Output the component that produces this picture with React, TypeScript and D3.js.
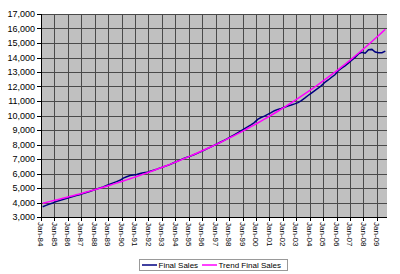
import React from "react";
import * as d3 from "d3";

// Quarterly categories 1984Q1 .. 2009Q3 (103 quarters); labels every 4 quarters
const startYear = 1984;
const quarterCount = 103;

const tickLabels = [
  "Jan-84", "Jan-85", "Jan-86", "Jan-87", "Jan-88", "Jan-89", "Jan-90", "Jan-91",
  "Jan-92", "Jan-93", "Jan-94", "Jan-95", "Jan-96", "Jan-97", "Jan-98", "Jan-99",
  "Jan-00", "Jan-01", "Jan-02", "Jan-03", "Jan-04", "Jan-05", "Jan-06", "Jan-07",
  "Jan-08", "Jan-09",
];

const yTicks = [3000, 4000, 5000, 6000, 7000, 8000, 9000, 10000, 11000, 12000, 13000, 14000, 15000, 16000, 17000];

const finalSales = [
  3710, 3800, 3890, 3970,
  4060, 4140, 4210, 4280,
  4340, 4410, 4480, 4540,
  4610, 4690, 4760, 4840,
  4920, 5000, 5080, 5170,
  5260, 5350, 5440, 5530,
  5680, 5780, 5860, 5900,
  5930, 6000, 6050, 6080,
  6160, 6230, 6300, 6390,
  6460, 6540, 6630, 6740,
  6840, 6940, 7040, 7130,
  7200, 7290, 7390, 7490,
  7600, 7720, 7820, 7940,
  8050, 8170, 8290, 8410,
  8540, 8670, 8800, 8940,
  9080, 9220, 9360, 9510,
  9730, 9860, 9960, 10080,
  10200, 10330, 10420, 10480,
  10570, 10650, 10720, 10800,
  10890, 11030, 11200, 11380,
  11550, 11720, 11880, 12060,
  12290, 12450, 12640, 12810,
  13090, 13260, 13420, 13610,
  13820, 14010, 14250, 14360,
  14300, 14540, 14560, 14380,
  14330, 14330, 14440,
];

const trendFinalSales = [
  3950, 4004, 4060, 4115,
  4172, 4230, 4288, 4347,
  4407, 4468, 4529, 4592,
  4655, 4719, 4784, 4850,
  4917, 4985, 5053, 5123,
  5193, 5265, 5337, 5411,
  5486, 5561, 5638, 5715,
  5794, 5874, 5955, 6037,
  6120, 6204, 6290, 6377,
  6465, 6554, 6644, 6735,
  6828, 6922, 7018, 7114,
  7212, 7312, 7412, 7515,
  7618, 7723, 7830, 7937,
  8047, 8158, 8270, 8384,
  8500, 8617, 8735, 8856,
  8978, 9101, 9227, 9354,
  9483, 9613, 9746, 9880,
  10016, 10154, 10294, 10436,
  10580, 10726, 10873, 11023,
  11175, 11329, 11485, 11643,
  11804, 11966, 12131, 12298,
  12468, 12640, 12814, 12990,
  13169, 13351, 13535, 13721,
  13910, 14102, 14296, 14493,
  14693, 14895, 15101, 15309,
  15519, 15733, 15950,
];

const FONT = "'Liberation Sans', Arial, Helvetica, sans-serif";

export default function App() {
  const W = 400;
  const H = 274;
  const left = 41;
  const right = 387;
  const top = 14;
  const bottom = 217;

  const x = d3.scaleLinear().domain([0, quarterCount]).range([left, right]);
  const y = d3.scaleLinear().domain([3000, 17000]).range([bottom, top]);

  const line = d3
    .line<number>()
    .x((_, i) => x(i + 0.5))
    .y((d) => y(d));

  const px = (v: number) => Math.round(v) + 0.5;

  return (
    <svg
      width={W}
      height={H}
      style={{ position: "absolute", left: 0, top: 0, background: "#fff" }}
      fontFamily={FONT}
    >
      <rect x={0} y={0} width={W} height={H} fill="#fff" />
      <rect x={left} y={top} width={right - left} height={bottom - top} fill="#c0c0c0" />
      {/* horizontal gridlines */}
      {yTicks.map((t) => (
        <line key={"h" + t} x1={left} x2={right} y1={px(y(t))} y2={px(y(t))} stroke="#4a4a4a" strokeWidth={1} />
      ))}
      {/* vertical gridlines */}
      {tickLabels.map((lab, k) => (
        <line key={"v" + lab} x1={px(x(k * 4))} x2={px(x(k * 4))} y1={top} y2={bottom} stroke="#4a4a4a" strokeWidth={1} />
      ))}
      {/* axes */}
      <line x1={px(left)} x2={px(left)} y1={top} y2={bottom + 0.5} stroke="#000" />
      <line x1={left} x2={right} y1={px(bottom)} y2={px(bottom)} stroke="#000" />
      {yTicks.map((t) => (
        <g key={"yt" + t}>
          <line x1={left - 4} x2={left} y1={px(y(t))} y2={px(y(t))} stroke="#000" />
          <text x={35} y={y(t)} dy="0.35em" textAnchor="end" fontSize={9} fill="#000">
            {d3.format(",")(t)}
          </text>
        </g>
      ))}
      {tickLabels.map((lab, k) => (
        <g key={"xt" + lab}>
          <line x1={px(x(k * 4))} x2={px(x(k * 4))} y1={bottom} y2={bottom + 4} stroke="#000" />
          <text
            transform={`translate(${x(k * 4)},${bottom + 5}) rotate(90)`}
            dy="0.35em"
            textAnchor="start"
            fontSize={8}
            fill="#000"
          >
            {lab}
          </text>
        </g>
      ))}
      {/* series */}
      <path d={line(finalSales) || ""} fill="none" stroke="#000080" strokeWidth={1.5} />
      <path d={line(trendFinalSales) || ""} fill="none" stroke="#ff00ff" strokeWidth={1.5} />
      {/* legend */}
      <g>
        <rect x={139.5} y={259.5} width={148} height={11} fill="#fff" stroke="#999" />
        <line x1={142} x2={157} y1={265} y2={265} stroke="#000080" strokeWidth={1.5} />
        <text x={158.5} y={265} dy="0.35em" fontSize={8} fill="#000">Final Sales</text>
        <line x1={202} x2={217} y1={265} y2={265} stroke="#ff00ff" strokeWidth={1.5} />
        <text x={218.5} y={265} dy="0.35em" fontSize={8} fill="#000">Trend Final Sales</text>
      </g>
    </svg>
  );
}
